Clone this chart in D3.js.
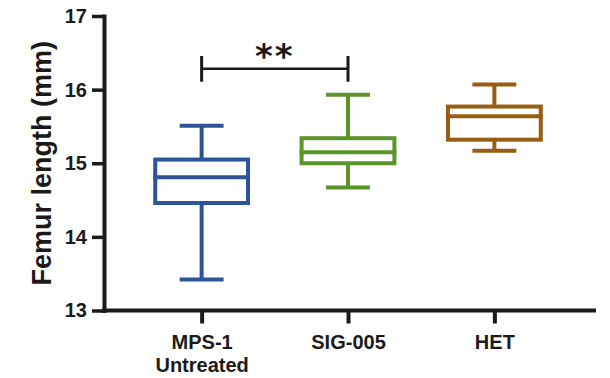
<!DOCTYPE html>
<html>
<head>
<meta charset="utf-8">
<script src="https://cdn.jsdelivr.net/npm/d3@7"></script>
<style>
  html, body { margin: 0; padding: 0; background: #fff; }
  svg { display: block; }
  text { font-family: "Liberation Sans", Arial, sans-serif; font-weight: bold; fill: #1a1a1a; }
</style>
</head>
<body>
<svg id="chart" width="610" height="378"></svg>
<script>
// ---- data ----
const categories = ["MPS-1|Untreated", "SIG-005", "HET"];
const whiskerLow  = [13.42, 14.67, 15.17];
const q1          = [14.46, 15.00, 15.32];
const median      = [14.81, 15.15, 15.64];
const q3          = [15.05, 15.34, 15.77];
const whiskerHigh = [15.51, 15.93, 16.07];
const colors      = ["#2b5597", "#5b9428", "#995d12"];
const yTicks      = [13, 14, 15, 16, 17];
const yLabel      = "Femur length (mm)";
const sigPair     = ["MPS-1|Untreated", "SIG-005"];
const sigLabel    = "**";

// ---- layout ----
const svg = d3.select("#chart");
const axisX = 104, axisBottomY = 310.5, axisTopY = 16;
const ink = "#1a1a1a";

const y = d3.scaleLinear().domain([13, 17]).range([axisBottomY, axisTopY]);
const x = d3.scalePoint().domain(categories).range([axisX, 592]).padding(0.667);
const boxW = x.step() * 0.634;
const capW = x.step() * 0.3;

const data = categories.map((c, i) => ({
  c, lo: whiskerLow[i], q1: q1[i], med: median[i], q3: q3[i], hi: whiskerHigh[i], col: colors[i]
}));

// ---- boxes ----
const g = svg.append("g");
const box = g.selectAll("g.box").data(data).join("g").attr("class", "box");
const sw = 4;
// whiskers
box.append("line").attr("x1", d => x(d.c)).attr("x2", d => x(d.c))
  .attr("y1", d => y(d.q3)).attr("y2", d => y(d.hi))
  .attr("stroke", d => d.col).attr("stroke-width", sw);
box.append("line").attr("x1", d => x(d.c)).attr("x2", d => x(d.c))
  .attr("y1", d => y(d.q1)).attr("y2", d => y(d.lo))
  .attr("stroke", d => d.col).attr("stroke-width", sw);
// caps
box.append("line").attr("x1", d => x(d.c) - capW / 2).attr("x2", d => x(d.c) + capW / 2)
  .attr("y1", d => y(d.hi)).attr("y2", d => y(d.hi))
  .attr("stroke", d => d.col).attr("stroke-width", sw);
box.append("line").attr("x1", d => x(d.c) - capW / 2).attr("x2", d => x(d.c) + capW / 2)
  .attr("y1", d => y(d.lo)).attr("y2", d => y(d.lo))
  .attr("stroke", d => d.col).attr("stroke-width", sw);
// box
box.append("rect").attr("x", d => x(d.c) - boxW / 2).attr("width", boxW)
  .attr("y", d => y(d.q3)).attr("height", d => y(d.q1) - y(d.q3))
  .attr("fill", "#fff").attr("stroke", d => d.col).attr("stroke-width", sw);
// median
box.append("line").attr("x1", d => x(d.c) - boxW / 2 - sw / 2).attr("x2", d => x(d.c) + boxW / 2 + sw / 2)
  .attr("y1", d => y(d.med)).attr("y2", d => y(d.med))
  .attr("stroke", d => d.col).attr("stroke-width", sw);

// ---- y axis ----
const yAxis = svg.append("g").attr("transform", `translate(${axisX},0)`)
  .call(d3.axisLeft(y).tickValues(yTicks).tickSize(12).tickSizeOuter(0).tickPadding(5).tickFormat(d3.format("d")));
yAxis.select(".domain").attr("stroke", ink).attr("stroke-width", 4).attr("stroke-linecap", "square");
yAxis.selectAll(".tick line").attr("stroke", ink).attr("stroke-width", 3.5);
yAxis.selectAll(".tick text").attr("font-size", 20).attr("fill", ink)
  .style("font-family", '"Liberation Sans", Arial, sans-serif').style("font-weight", "bold");

// ---- x axis ----
const xAxis = svg.append("g").attr("transform", `translate(0,${axisBottomY})`)
  .call(d3.axisBottom(x).tickSize(13).tickSizeOuter(0).tickFormat(""));
xAxis.select(".domain").remove();
xAxis.append("line").attr("x1", axisX - 2).attr("x2", 596).attr("y1", 0).attr("y2", 0)
  .attr("stroke", ink).attr("stroke-width", 4);
xAxis.selectAll(".tick line").attr("stroke", ink).attr("stroke-width", 4);
xAxis.selectAll(".tick").each(function(d) {
  const t = d3.select(this).append("text").attr("text-anchor", "middle")
    .attr("font-size", 20).attr("fill", ink)
    .style("font-family", '"Liberation Sans", Arial, sans-serif').style("font-weight", "bold");
  d.split("|").forEach((line, i) => {
    t.append("tspan").attr("x", 0).attr("y", 38 + i * 23.4).text(line);
  });
});

// ---- y label ----
svg.append("text").attr("transform", `translate(50.5,${(axisTopY + axisBottomY) / 2}) rotate(-90)`)
  .attr("text-anchor", "middle").attr("font-size", 27).text(yLabel);

// ---- significance bracket ----
const bx1 = x(sigPair[0]), bx2 = x(sigPair[1]);
const by = y(17) + 52.7;
const sig = svg.append("g");
sig.append("line").attr("x1", bx1).attr("x2", bx2).attr("y1", by).attr("y2", by)
  .attr("stroke", ink).attr("stroke-width", 2.5);
[bx1, bx2].forEach(bx => {
  sig.append("line").attr("x1", bx).attr("x2", bx).attr("y1", by - 12.7).attr("y2", by + 13)
    .attr("stroke", ink).attr("stroke-width", 3);
});
sig.append("text").attr("x", (bx1 + bx2) / 2).attr("y", by - 1)
  .attr("text-anchor", "middle").attr("font-size", 34).attr("letter-spacing", 2)
  .style("font-family", '"DejaVu Sans", sans-serif').text(sigLabel);
</script>
</body>
</html>
